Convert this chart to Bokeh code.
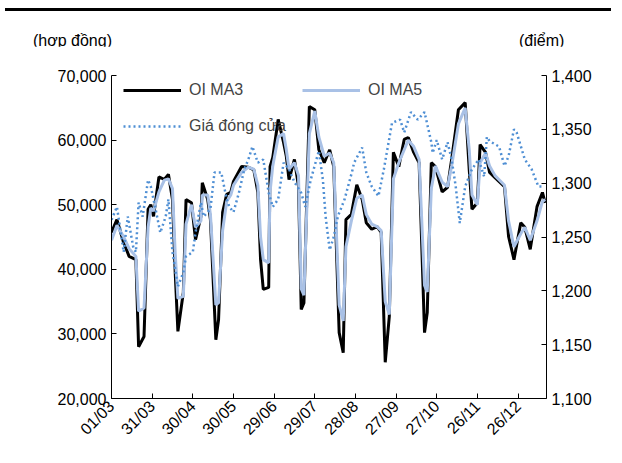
from math import pi
from bokeh.plotting import figure
from bokeh.models import Range1d, LinearAxis, NumeralTickFormatter, Legend, LegendItem, Div, FixedTicker
from bokeh.layouts import column
from bokeh.embed import file_html
from bokeh.resources import INLINE

# tick labels (dd/mm), every 30 days
tick_days = [0, 30, 60, 90, 120, 150, 180, 210, 240, 270, 300]
tick_labels = ["01/03", "31/03", "30/04", "30/05", "29/06", "29/07", "28/08", "27/09", "27/10", "26/11", "26/12"]

# open interest, days since 01/03
oi_days = [0, 4, 9, 13, 18, 20, 24, 27, 29, 31, 35, 39, 42, 45, 47, 49, 53, 55, 59, 62, 66, 67, 71, 73, 77, 79,
           82, 85, 88, 90, 96, 101, 105, 108, 110, 112, 116, 117, 119, 123, 127, 129, 131, 135, 138, 140, 142, 146,
           150, 153, 157, 161, 164, 168, 171, 173, 177, 181, 185, 188, 192, 196, 199, 202, 205, 208, 212, 216, 219,
           223, 227, 231, 233, 236, 239, 244, 248, 251, 256, 261, 264, 266, 270, 272, 276, 279, 283, 290, 293, 297,
           302, 305, 309, 314, 318, 320]
oi_ma3 = [45700, 47700, 44100, 42000, 41500, 28000, 29600, 49300, 50000, 48200, 54300, 53900, 54700, 50800, 39500,
          30400, 36400, 50800, 50300, 44600, 48200, 53400, 50800, 47700, 29100, 32200, 48800, 51600, 51900, 53600,
          55900, 55800, 55400, 51900, 41500, 36900, 37200, 55900, 57300, 63200, 59600, 57500, 53900, 57000, 52800,
          33800, 34800, 65200, 64700, 58500, 56500, 58500, 55900, 30200, 27100, 47700, 48500, 53100, 50800, 47200,
          46200, 46600, 45700, 25600, 32700, 58100, 55900, 60100, 60400, 58100, 56500, 30200, 33300, 56500, 55900,
          52000, 52700, 57000, 64700, 65800, 55400, 49300, 50300, 59300, 58100, 55000, 54200, 52800, 45100, 41500,
          47200, 46500, 43100, 49700, 51900, 50300]
oi_ma5 = [44500, 46800, 45000, 43200, 42000, 33500, 34000, 46500, 49500, 49000, 52000, 53800, 54000, 52500, 42500,
          35500, 35800, 47000, 50000, 46500, 47500, 51500, 51500, 48500, 34500, 34800, 46000, 50500, 51500, 53000,
          55000, 55800, 55500, 53000, 45000, 41500, 41000, 52000, 56000, 60500, 61000, 58500, 55500, 56500, 54500,
          37000, 36000, 61000, 64500, 60500, 57500, 58000, 56500, 34500, 32000, 43500, 47500, 51000, 51500, 48500,
          47000, 46600, 46000, 35000, 33000, 54000, 56500, 58500, 60000, 59000, 57000, 37500, 36500, 52500, 56000,
          53500, 52800, 56000, 62500, 65000, 58500, 51500, 50000, 56500, 58000, 56000, 54500, 53000, 47500, 43500,
          45500, 46500, 44500, 47500, 50500, 50800]

# closing price (right axis)
px_days = [0, 4, 9, 12, 16, 18, 20, 23, 27, 29, 33, 36, 40, 42, 45, 49, 53, 55, 60, 62, 66, 68, 73, 76, 81, 85,
           87, 90, 94, 98, 101, 104, 108, 112, 116, 119, 123, 127, 131, 135, 140, 143, 147, 153, 156, 158, 161,
           164, 167, 172, 178, 179, 185, 188, 192, 197, 201, 207, 213, 216, 221, 226, 231, 236, 237, 240, 244, 248,
           251, 254, 257, 261, 266, 271, 275, 277, 279, 286, 290, 293, 297, 299, 305, 310, 315, 319]
price = [1266, 1278, 1236, 1269, 1241, 1236, 1282, 1269, 1303, 1297, 1273, 1254, 1269, 1285, 1236, 1204, 1217, 1232,
         1236, 1254, 1282, 1269, 1276, 1310, 1310, 1285, 1278, 1273, 1291, 1313, 1322, 1334, 1319, 1322, 1291, 1278,
         1285, 1319, 1313, 1301, 1291, 1278, 1303, 1330, 1303, 1269, 1238, 1250, 1269, 1285, 1313, 1319, 1333, 1310,
         1297, 1288, 1313, 1356, 1359, 1347, 1366, 1359, 1366, 1338, 1328, 1340, 1322, 1338, 1322, 1297, 1263, 1297,
         1313, 1322, 1306, 1343, 1339, 1334, 1316, 1325, 1350, 1347, 1322, 1313, 1297, 1297]

FONT = "Liberation Sans"

p = figure(width=606, height=408, output_backend="svg", toolbar_location=None,
           x_range=Range1d(0, 321), y_range=Range1d(20000, 70000),
           min_border_left=111, min_border_right=60, min_border_top=29, min_border_bottom=56)
p.outline_line_color = None
p.xgrid.visible = False
p.ygrid.visible = False
p.extra_y_ranges = {"px": Range1d(1100, 1400)}

r3 = p.line(oi_days, oi_ma3, line_color="black", line_width=3)
r5 = p.line(oi_days, oi_ma5, line_color="#a9c1e6", line_width=3)
rp = p.line(px_days, price, line_color="#4f8fd4", line_width=2.5, line_dash="2 3", y_range_name="px")

right = LinearAxis(y_range_name="px")
p.add_layout(right, "right")

for ax in [p.xaxis[0], p.yaxis[0], right]:
    ax.major_tick_in = 5
    ax.major_tick_out = 0
    ax.minor_tick_line_color = None
    ax.axis_line_color = "black"
    ax.major_tick_line_color = "black"
    ax.major_label_text_font = FONT
    ax.major_label_text_font_size = "16px"
    ax.major_label_text_color = "black"

p.yaxis[0].formatter = NumeralTickFormatter(format="0,0")
right.formatter = NumeralTickFormatter(format="0,0")
p.yaxis[0].ticker = FixedTicker(ticks=[20000, 30000, 40000, 50000, 60000, 70000])
right.ticker = FixedTicker(ticks=[1100, 1150, 1200, 1250, 1300, 1350, 1400])
p.xaxis[0].ticker = FixedTicker(ticks=tick_days)
p.xaxis[0].major_label_overrides = {d: l for d, l in zip(tick_days, tick_labels)}
p.xaxis[0].major_label_orientation = pi / 4

legend = Legend(items=[LegendItem(label="OI MA3", renderers=[r3]),
                       LegendItem(label="Giá đóng cửa", renderers=[rp]),
                       LegendItem(label="OI MA5", renderers=[r5])],
                location=(12, 262), ncols=2, border_line_color=None, background_fill_alpha=0,
                label_text_font=FONT, label_text_font_size="16px", glyph_width=58,
                spacing=16, label_standoff=8, margin=0, padding=2)
p.add_layout(legend)

top = Div(width=606, height=6, styles={"border-bottom": "3px solid black"})
units = Div(width=606, height=20,
            text='<div style="position:relative;width:606px;height:20px;font-family:\'Liberation Sans\';font-size:16px">'
                 '<span style="position:absolute;left:28px;top:9px">(hợp đồng)</span>'
                 '<span style="position:absolute;left:514px;top:9px">(điểm)</span></div>')
layout = column(top, units, p, spacing=0)

open("out.html", "w").write(file_html(layout, INLINE))
